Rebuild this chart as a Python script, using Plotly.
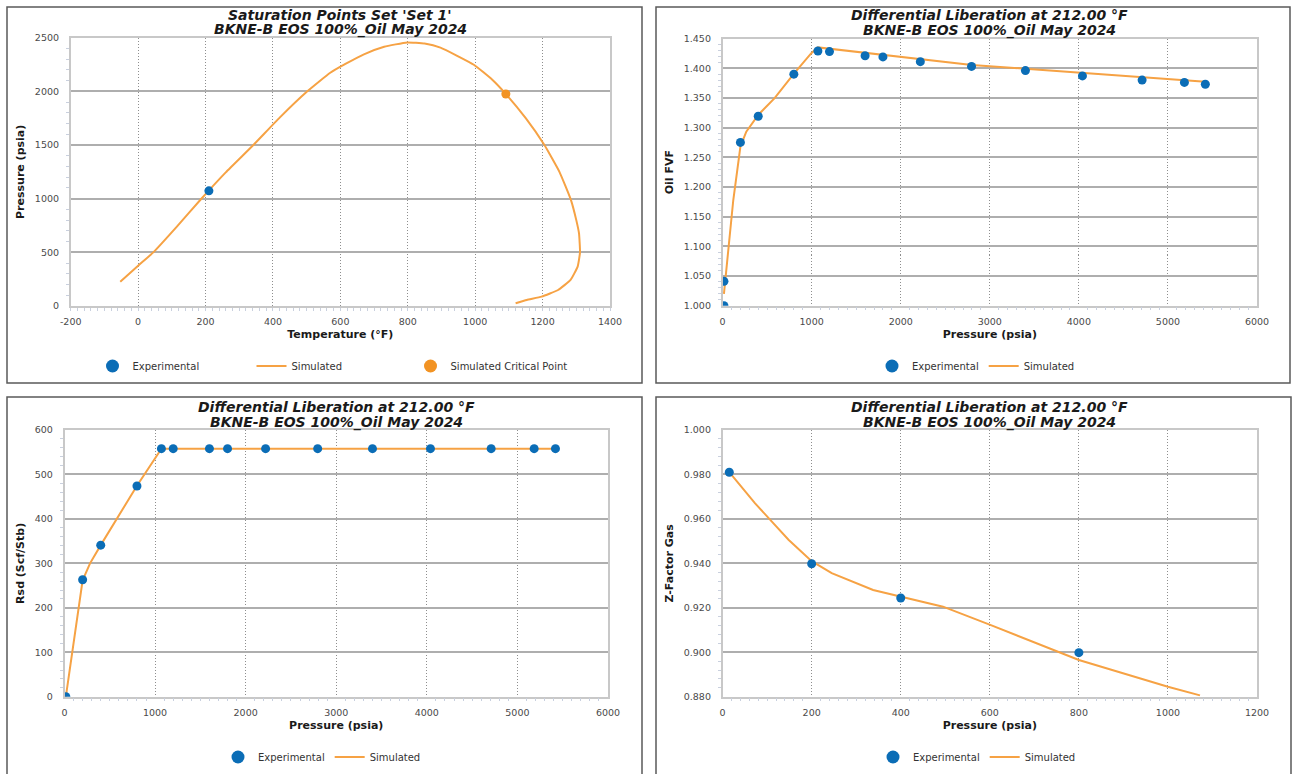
import plotly.graph_objects as go

W, H = 1301, 774

# ---- Saturation points (phase envelope) ----
env_T = [-53, 0, 45, 115, 185, 260, 342, 420, 502, 570, 615, 670, 730, 798, 850,
         897, 996, 1050, 1091, 1150, 1205, 1250, 1284, 1300, 1308, 1311, 1304,
         1283, 1246, 1197, 1153, 1120]
env_P = [225, 375, 500, 740, 990, 1245, 1500, 1755, 2000, 2173, 2255, 2345, 2415,
         2456, 2445, 2407, 2248, 2110, 1975, 1750, 1502, 1250, 989, 800, 678, 500,
         367, 243, 149, 87, 56, 25]
sat_exp_T = [210]
sat_exp_P = [1073]
crit_T = [1091]
crit_P = [1975]
temp_ticks = [-200, 0, 200, 400, 600, 800, 1000, 1200, 1400]
temp_labels = ["-200", "0", "200", "400", "600", "800", "1000", "1200", "1400"]

# ---- Differential liberation at 212 F ----
fvf_exp_P = [15, 15, 200, 400, 800, 1070, 1200, 1600, 1800, 2220, 2795, 3400, 4040,
             4710, 5185, 5420]
fvf_exp = [1.000, 1.041, 1.275, 1.319, 1.390, 1.429, 1.428, 1.421, 1.419, 1.411,
           1.403, 1.396, 1.387, 1.380, 1.376, 1.373]
fvf_sim_P = [15, 120, 200, 266, 404, 584, 801, 996, 1070, 1483, 2000, 2798, 3400,
             4040, 4710, 5420]
fvf_sim = [1.020, 1.178, 1.268, 1.293, 1.322, 1.3495, 1.391, 1.4253, 1.4350, 1.428,
           1.4192, 1.4055, 1.399, 1.392, 1.3848, 1.3771]

rsd_exp_P = [15, 200, 400, 800, 1070, 1200, 1600, 1800, 2220, 2795, 3400, 4040,
             4710, 5185, 5420]
rsd_exp = [0, 263, 341, 474, 558, 558, 558, 558, 558, 558, 558, 558, 558, 558, 558]
rsd_sim_P = [15, 200, 282, 400, 800, 1070, 5420]
rsd_sim = [0, 262, 300, 341, 474.5, 558, 558]

z_exp_P = [15, 200, 400, 800]
z_exp = [0.981, 0.9398, 0.9244, 0.8998]
z_sim_P = [15, 73, 148, 200, 245, 338, 495, 601, 800, 1000, 1072]
z_sim = [0.981, 0.967, 0.9506, 0.941, 0.9356, 0.928, 0.9205, 0.9123, 0.8965,
         0.8845, 0.8806]

BLUE = "#0b6db6"
ORANGE = "#f6a244"
CRIT = "#f29323"
FONT = "DejaVu Sans"

# plot areas in pixels: (left, right, top, bottom)
areas = {
    1: (70.7, 610, 37.7, 306),
    2: (722.6, 1257, 38.5, 305.7),
    3: (64.5, 608, 430, 696.7),
    4: (722.6, 1257, 430, 696.7),
}


def px_x(v):
    return v / W


def px_y(v):
    return 1 - v / H


fig = go.Figure()


def line(x, y, xa, ya, shape="linear"):
    fig.add_trace(go.Scatter(x=x, y=y, mode="lines", name="Simulated",
                             line=dict(color=ORANGE, width=2, shape=shape,
                                       smoothing=0.4),
                             showlegend=False, xaxis=xa, yaxis=ya))


def pts(x, y, xa, ya, color=BLUE):
    fig.add_trace(go.Scatter(x=x, y=y, mode="markers", name="Experimental",
                             marker=dict(color=color, size=9), showlegend=False,
                             xaxis=xa, yaxis=ya))


def legend_entries(xa, ya, lg, with_crit=False):
    # legend keys drawn with larger symbols than the plotted markers
    fig.add_trace(go.Scatter(x=[None], y=[None], mode="markers", name="Experimental",
                             marker=dict(color=BLUE, size=13), xaxis=xa, yaxis=ya,
                             legend=lg, legendrank=1))
    fig.add_trace(go.Scatter(x=[None], y=[None], mode="lines", name="Simulated",
                             line=dict(color=ORANGE, width=2), xaxis=xa, yaxis=ya,
                             legend=lg, legendrank=2))
    if with_crit:
        fig.add_trace(go.Scatter(x=[None], y=[None], mode="markers",
                                 name="Simulated Critical Point",
                                 marker=dict(color=CRIT, size=13), xaxis=xa,
                                 yaxis=ya, legend=lg, legendrank=3))


line(env_T, env_P, "x", "y", shape="spline")
pts(sat_exp_T, sat_exp_P, "x", "y")
fig.add_trace(go.Scatter(x=crit_T, y=crit_P, mode="markers",
                         name="Simulated Critical Point", showlegend=False,
                         marker=dict(color=CRIT, size=9), xaxis="x", yaxis="y"))
legend_entries("x", "y", "legend", with_crit=True)

line(fvf_sim_P, fvf_sim, "x2", "y2")
pts(fvf_exp_P, fvf_exp, "x2", "y2")
legend_entries("x2", "y2", "legend2")

line(rsd_sim_P, rsd_sim, "x3", "y3")
pts(rsd_exp_P, rsd_exp, "x3", "y3")
legend_entries("x3", "y3", "legend3")

line(z_sim_P, z_sim, "x4", "y4")
pts(z_exp_P, z_exp, "x4", "y4")
legend_entries("x4", "y4", "legend4")

tickfont = dict(family=FONT, size=9.5, color="#4a4a4a")
titlefont = dict(family=FONT, size=11, color="#1a1a1a", weight="bold")


def xaxis(i, rng, dtick, minor, title):
    l, r, t, b = areas[i]
    return dict(domain=[px_x(l), px_x(r)], range=rng, dtick=dtick,
                anchor="y" if i == 1 else f"y{i}",
                showgrid=True, gridcolor="#8e8e8e", griddash="1px,2px",
                gridwidth=1,
                zeroline=False, showline=True, linecolor="#c8c8c8", linewidth=1.5,
                mirror=True, ticks="", tickfont=tickfont, ticklabelstandoff=6,
                minor=dict(ticks="outside", ticklen=3, tickcolor="#c9d0de",
                           dtick=minor, showgrid=False),
                title=dict(text=title, font=titlefont, standoff=4))


def yaxis(i, rng, dtick, minor, title, fmt=None):
    l, r, t, b = areas[i]
    d = dict(domain=[px_y(b), px_y(t)], range=rng, dtick=dtick,
             anchor="x" if i == 1 else f"x{i}",
             showgrid=True, gridcolor="#aeaeae", gridwidth=2,
             zeroline=False, showline=True, linecolor="#c8c8c8", linewidth=1.5,
             mirror=True, ticks="", tickfont=tickfont, ticklabelstandoff=8,
             minor=dict(ticks="outside", ticklen=3, tickcolor="#c9d0de",
                        dtick=minor, showgrid=False),
             title=dict(text=title, font=titlefont, standoff=8))
    if fmt:
        d["tickformat"] = fmt
    return d


legfont = dict(family=FONT, size=10, color="#333333")


def legend(cx, cy, ew=None):
    d = dict(orientation="h", x=px_x(cx), y=px_y(cy), xanchor="center",
             yanchor="middle", font=legfont, bgcolor="rgba(0,0,0,0)",
             itemwidth=30)
    if ew:
        d["entrywidth"] = ew
    return d


title_l1 = {1: "Saturation Points Set 'Set 1'",
            2: "Differential Liberation at 212.00 °F",
            3: "Differential Liberation at 212.00 °F",
            4: "Differential Liberation at 212.00 °F"}
title_l2 = "BKNE-B EOS 100%_Oil May 2024"

annotations = []
for i, (l, r, t, b) in areas.items():
    cx = (l + r) / 2
    for text, yy in ((title_l1[i], t - 23), (title_l2, t - 8)):
        annotations.append(dict(
            text=text, x=px_x(cx), y=px_y(yy), xref="paper", yref="paper",
            xanchor="center", yanchor="middle", showarrow=False,
            font=dict(family=FONT, size=14, color="#1a1a1a", weight="bold",
                      style="italic")))

# panel frames (the lower pair runs off the bottom edge, so no bottom side)
frame = dict(color="#5a5a5a", width=1.5)
shapes = []
for (x0, y0, x1, y1) in [(7, 7, 642, 383), (656, 7, 1290, 383)]:
    shapes.append(dict(type="rect", xref="paper", yref="paper",
                       x0=px_x(x0), x1=px_x(x1), y0=px_y(y1), y1=px_y(y0),
                       line=frame, fillcolor="rgba(0,0,0,0)", layer="below"))
for (x0, y0, x1) in [(7, 397, 642), (656, 397, 1291)]:
    path = (f"M {px_x(x0)} 0 L {px_x(x0)} {px_y(y0)} "
            f"L {px_x(x1)} {px_y(y0)} L {px_x(x1)} 0")
    shapes.append(dict(type="path", xref="paper", yref="paper", path=path,
                       line=frame, layer="below"))

x1 = xaxis(1, [-200, 1400], 200, 20, "Temperature (°F)")
x1.update(tickvals=temp_ticks, ticktext=temp_labels)

fig.update_layout(
    width=W, height=H,
    margin=dict(l=0, r=0, t=0, b=0, pad=0, autoexpand=False),
    paper_bgcolor="white", plot_bgcolor="white",
    font=dict(family=FONT),
    xaxis=x1,
    yaxis=yaxis(1, [0, 2500], 500, 100, "Pressure (psia)"),
    xaxis2=xaxis(2, [0, 6000], 1000, 100, "Pressure (psia)"),
    yaxis2=yaxis(2, [1.0, 1.45], 0.05, 0.01, "Oil FVF", ".3f"),
    xaxis3=xaxis(3, [0, 6000], 1000, 100, "Pressure (psia)"),
    yaxis3=yaxis(3, [0, 600], 100, 20, "Rsd (Scf/Stb)"),
    xaxis4=xaxis(4, [0, 1200], 200, 20, "Pressure (psia)"),
    yaxis4=yaxis(4, [0.88, 1.0], 0.02, 0.004, "Z-Factor Gas", ".3f"),
    legend=legend(331, 366, 114),
    legend2=legend(976, 366),
    legend3=legend(322, 757),
    legend4=legend(977, 757),
    annotations=annotations,
    shapes=shapes,
)

fig.write_html(
    "out.html",
    post_script="document.body.style.margin='0';"
                "document.documentElement.style.overflow='hidden';",
)
